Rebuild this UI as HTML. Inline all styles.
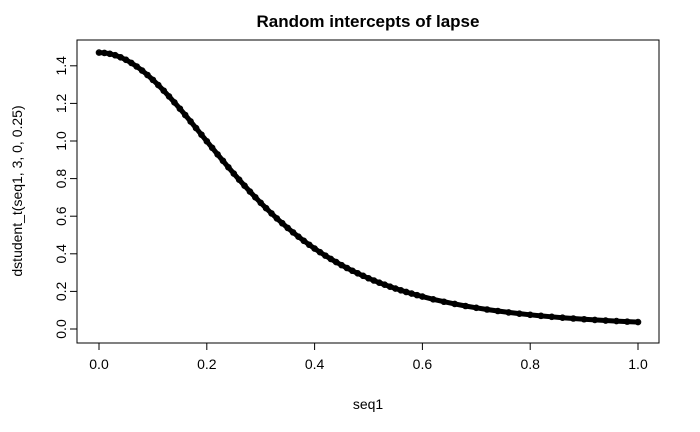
<!DOCTYPE html>
<html><head><meta charset="utf-8">
<style>
body{margin:0;background:#fff;}
svg{display:block;font-family:"Liberation Sans",Arial,sans-serif;}
</style></head>
<body>
<svg id="chart" width="700" height="432" viewBox="0 0 700 432">
<text x="368" y="27" text-anchor="middle" font-size="17" font-weight="bold">Random intercepts of lapse</text>
<rect x="77" y="40" width="582" height="303" fill="none" stroke="#000" stroke-width="1"/>
<text x="368" y="409" text-anchor="middle" font-size="14">seq1</text>
<text transform="translate(22,191) rotate(-90)" text-anchor="middle" font-size="14">dstudent_t(seq1, 3, 0, 0.25)</text>
<g id="axes"></g>
<g id="marks"></g>
</svg>
<script>
const xVals=[0,0.01,0.02,0.03,0.04,0.05,0.06,0.07,0.08,0.09,0.10,0.11,0.12,0.13,0.14,0.15,0.16,0.17,0.18,0.19,0.20,0.21,0.22,0.23,0.24,0.25,0.26,0.27,0.28,0.29,0.30,0.31,0.32,0.33,0.34,0.35,0.36,0.37,0.38,0.39,0.40,0.41,0.42,0.43,0.44,0.45,0.46,0.47,0.48,0.49,0.50,0.51,0.52,0.53,0.54,0.55,0.56,0.57,0.58,0.59,0.60,0.62,0.64,0.66,0.68,0.70,0.72,0.74,0.76,0.78,0.80,0.82,0.84,0.86,0.88,0.90,0.92,0.94,0.96,0.98,1.00];
const yVals=[1.4702,1.4686,1.4640,1.4562,1.4454,1.4318,1.4153,1.3963,1.3748,1.3510,1.3251,1.2974,1.2680,1.2372,1.2051,1.1721,1.1382,1.1038,1.0689,1.0338,0.9987,0.9636,0.9288,0.8944,0.8604,0.8270,0.7943,0.7622,0.7311,0.7007,0.6712,0.6426,0.6150,0.5883,0.5626,0.5378,0.5140,0.4912,0.4692,0.4482,0.4280,0.4087,0.3903,0.3727,0.3559,0.3398,0.3245,0.3099,0.2960,0.2827,0.2700,0.2580,0.2465,0.2356,0.2252,0.2153,0.2058,0.1969,0.1883,0.1802,0.1724,0.1580,0.1450,0.1331,0.1224,0.1126,0.1037,0.0957,0.0883,0.0816,0.0755,0.0699,0.0648,0.0601,0.0559,0.0519,0.0484,0.0451,0.0420,0.0392,0.0367];
const xTicks=[0,0.2,0.4,0.6,0.8,1.0];
const xTickLabels=["0.0","0.2","0.4","0.6","0.8","1.0"];
const yTicks=[0,0.2,0.4,0.6,0.8,1.0,1.2,1.4];
const yTickLabels=["0.0","0.2","0.4","0.6","0.8","1.0","1.2","1.4"];

const NS="http://www.w3.org/2000/svg";
const sx=v=>99+v*539;
const sy=v=>329-v*188;
const axes=document.getElementById('axes');
const marks=document.getElementById('marks');
function mk(tag,attrs,parent){const e=document.createElementNS(NS,tag);for(const k in attrs)e.setAttribute(k,attrs[k]);parent.appendChild(e);return e;}

mk('line',{x1:sx(0),x2:sx(1),y1:343,y2:343,stroke:'#000'},axes);
xTicks.forEach((t,i)=>{
  const l=mk('line',{x1:sx(t),x2:sx(t),y1:343,y2:350,stroke:'#000'},axes);
  
  
  const tx=mk('text',{x:sx(t),y:369,'text-anchor':'middle','font-size':14},axes);
  tx.textContent=xTickLabels[i];
  
  
});
mk('line',{x1:77,x2:77,y1:sy(0),y2:sy(1.4),stroke:'#000'},axes);
yTicks.forEach((t,i)=>{
  const l=mk('line',{x1:70,x2:77,y1:sy(t),y2:sy(t),stroke:'#000'},axes);
  
  
  const tx=mk('text',{x:0,y:0,'text-anchor':'middle','font-size':14,transform:`translate(66,${sy(t)}) rotate(-90)`},axes);
  tx.textContent=yTickLabels[i];
  
  
});
const pts=xVals.map((x,i)=>sx(x)+','+sy(yVals[i])).join(' ');
const band=mk('polyline',{points:pts,fill:'none',stroke:'#000','stroke-width':5,'stroke-linejoin':'round','stroke-linecap':'round'},marks);


xVals.forEach((x,i)=>{
  const c=mk('circle',{cx:sx(x),cy:sy(yVals[i]),r:2.8,fill:'none',stroke:'#000','stroke-width':1},marks);
  
  
});
</script>
</body></html>
